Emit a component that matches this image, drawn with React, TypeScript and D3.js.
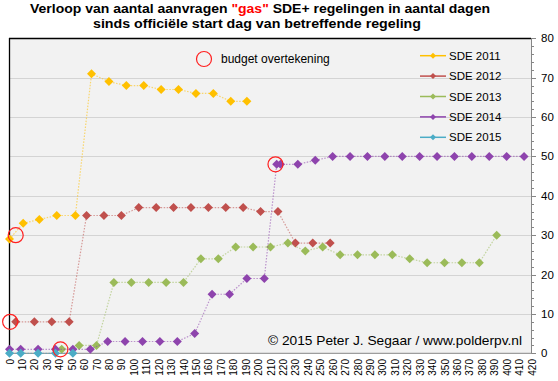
import React from 'react';
import * as d3 from 'd3';

// ---- data ----
const days2011 = [0, 11, 24, 38, 53, 66, 80, 94, 108, 122, 136, 150, 164, 178, 191];
const sde2011 = [29, 33, 34, 35, 35, 71, 69, 68, 68, 67, 67, 66, 66, 64, 64];

const days2012 = [5, 20, 34, 48, 62, 76, 90, 104, 118, 132, 146, 160, 174, 188, 202, 216, 230, 244, 258];
const sde2012 = [8, 8, 8, 8, 35, 35, 35, 37, 37, 37, 37, 37, 37, 37, 36, 36, 28, 28, 28];

const days2013 = [42, 56, 70, 84, 98, 112, 126, 140, 154, 168, 182, 196, 210, 224, 238, 252, 266, 280, 294, 308, 322, 336, 350, 364, 378, 392];
const sde2013 = [1, 2, 2, 18, 18, 18, 18, 18, 24, 24, 27, 27, 27, 28, 26, 27, 25, 25, 25, 25, 24, 23, 23, 23, 23, 30];

const days2014 = [0, 9, 23, 37, 51, 65, 79, 93, 107, 121, 135, 149, 163, 177, 191, 205, 215, 218, 232, 246, 260, 274, 288, 302, 316, 330, 344, 358, 372, 386, 400, 414];
const sde2014 = [1, 1, 1, 1, 1, 1, 3, 3, 3, 3, 3, 5, 15, 15, 19, 19, 48, 48, 48, 49, 50, 50, 50, 50, 50, 50, 50, 50, 50, 50, 50, 50];

const days2015 = [0, 9, 23, 37, 51];
const sde2015 = [0, 0, 0, 0, 0];

const budgetDays = [5, 0.5, 41, 214];
const budgetValues = [30, 8, 1, 48];

const seriesNames = ['SDE 2011', 'SDE 2012', 'SDE 2013', 'SDE 2014', 'SDE 2015'];
const seriesColors = ['#FFC000', '#C0504D', '#9BBB59', '#8E44AD', '#4BACC6'];

const xTickLabels = [0, 10, 20, 30, 40, 50, 60, 70, 80, 90, 100, 110, 120, 130, 140, 150, 160, 170, 180, 190, 200, 210, 220, 230, 240, 250, 260, 270, 280, 290, 300, 310, 320, 330, 340, 350, 360, 370, 380, 390, 400, 410, 420];
const yTickLabels = [0, 10, 20, 30, 40, 50, 60, 70, 80];
const yMinorTicks = [2, 4, 6, 8, 12, 14, 16, 18, 22, 24, 26, 28, 32, 34, 36, 38, 42, 44, 46, 48, 52, 54, 56, 58, 62, 64, 66, 68, 72, 74, 76, 78];

const titleLine1a = 'Verloop van aantal aanvragen ';
const titleGas = '"gas"';
const titleLine1b = ' SDE+ regelingen in aantal dagen';
const titleLine2 = 'sinds officiële start dag van betreffende regeling';
const budgetLabel = 'budget overtekening';
const copyright = '© 2015  Peter J. Segaar / www.polderpv.nl';

const allDays = [days2011, days2012, days2013, days2014, days2015];
const allValues = [sde2011, sde2012, sde2013, sde2014, sde2015];

const diamond = (h: number) => `M0,${-h}L${h},0L0,${h}L${-h},0Z`;

export default function App() {
  const W = 558, H = 381;
  const left = 9, right = 531, top = 38, bottom = 353.3;
  const x = d3.scaleLinear().domain([0, 420]).range([left + 0.5, right + 0.5]);
  const y = d3.scaleLinear().domain([0, 80]).range([bottom, top + 0.3]);
  const line = d3.line<[number, number]>().x(d => x(d[0])).y(d => y(d[1]));
  const font = '"Liberation Sans", Arial, sans-serif';

  return (
    <svg width={W} height={H} style={{ position: 'absolute', left: 0, top: 0, background: '#fff' }} fontFamily={font}>
      {/* title */}
      <text x={260} y={12.5} textAnchor="middle" fontWeight="bold" fontSize={12.5} fill="#000" textLength={460} lengthAdjust="spacingAndGlyphs">
        <tspan>{titleLine1a}</tspan>
        <tspan fill="#FF0000">{titleGas}</tspan>
        <tspan>{titleLine1b}</tspan>
      </text>
      <text x={257} y={27.5} textAnchor="middle" fontWeight="bold" fontSize={12.5} fill="#000" textLength={328} lengthAdjust="spacingAndGlyphs">
        {titleLine2}
      </text>

      {/* plot area */}
      <rect x={left} y={top} width={right - left} height={bottom - top} fill="#F2F2F2" />
      {yTickLabels.filter(v => v > 0 && v < 80).map(v => (
        <line key={v} x1={left} x2={right} y1={Math.round(y(v)) + 0.5} y2={Math.round(y(v)) + 0.5} stroke="#D4D4D4" strokeWidth={1} />
      ))}

      {/* axes */}
      <line x1={left} x2={right + 1} y1={bottom} y2={bottom} stroke="#868686" strokeWidth={1} />
      <line x1={right + 0.5} x2={right + 0.5} y1={top} y2={bottom} stroke="#868686" strokeWidth={1} />
      <line x1={left} x2={right} y1={top + 0.5} y2={top + 0.5} stroke="#000" strokeWidth={1.3} />
      <line x1={left + 0.5} x2={left + 0.5} y1={top} y2={bottom} stroke="#000" strokeWidth={1.3} />

      {yMinorTicks.map(v => (
        <line key={'m' + v} x1={right + 0.5} x2={right + 3} y1={Math.round(y(v)) + 0.5} y2={Math.round(y(v)) + 0.5} stroke="#868686" />
      ))}
      {yTickLabels.map(v => (
        <g key={'t' + v}>
          <line x1={right + 0.5} x2={right + 5} y1={Math.round(y(v)) + 0.5} y2={Math.round(y(v)) + 0.5} stroke="#868686" />
          <text x={541} y={y(v)} dy="0.35em" fontSize={11.5} fill="#000">{v}</text>
        </g>
      ))}
      {xTickLabels.map(v => (
        <text key={'x' + v} transform={`translate(${x(v) + 0.5},359) rotate(-90)`} textAnchor="end" dy="0.35em" fontSize={10} fill="#000">{v}</text>
      ))}

      {/* series */}
      {allDays.map((days, i) => {
        const pts = days.map((d, j) => [d, allValues[i][j]] as [number, number]);
        return (
          <g key={seriesNames[i]}>
            <path d={line(pts) || ''} fill="none" stroke={seriesColors[i]} strokeOpacity={0.55} strokeWidth={1.2} strokeDasharray="1.5 1.5" />
            {pts.map((p, j) => (
              <path key={j} d={diamond(4.5)} transform={`translate(${x(p[0])},${y(p[1])})`} fill={seriesColors[i]} />
            ))}
          </g>
        );
      })}

      {/* budget circles */}
      {budgetDays.map((d, i) => (
        <circle key={'b' + i} cx={x(d)} cy={y(budgetValues[i])} r={7.5} fill="none" stroke="#FF2020" strokeWidth={1.2} />
      ))}

      {/* budget legend */}
      <circle cx={204} cy={59} r={7.5} fill="none" stroke="#FF2020" strokeWidth={1.2} />
      <text x={221} y={59} dy="0.35em" fontSize={12} fill="#000">{budgetLabel}</text>

      {/* legend */}
      {seriesNames.map((n, i) => {
        const ly = 55.7 + i * 20.4;
        return (
          <g key={'l' + n}>
            <line x1={420} x2={446} y1={ly} y2={ly} stroke={seriesColors[i]} strokeWidth={1.5} />
            <path d={diamond(3)} transform={`translate(433,${ly})`} fill={seriesColors[i]} />
            <text x={449} y={ly} dy="0.35em" fontSize={11.5} fill="#000">{n}</text>
          </g>
        );
      })}

      {/* copyright */}
      <text x={268} y={345} fontSize={13.5} fill="#000" textLength={254} lengthAdjust="spacingAndGlyphs">{copyright}</text>
    </svg>
  );
}
